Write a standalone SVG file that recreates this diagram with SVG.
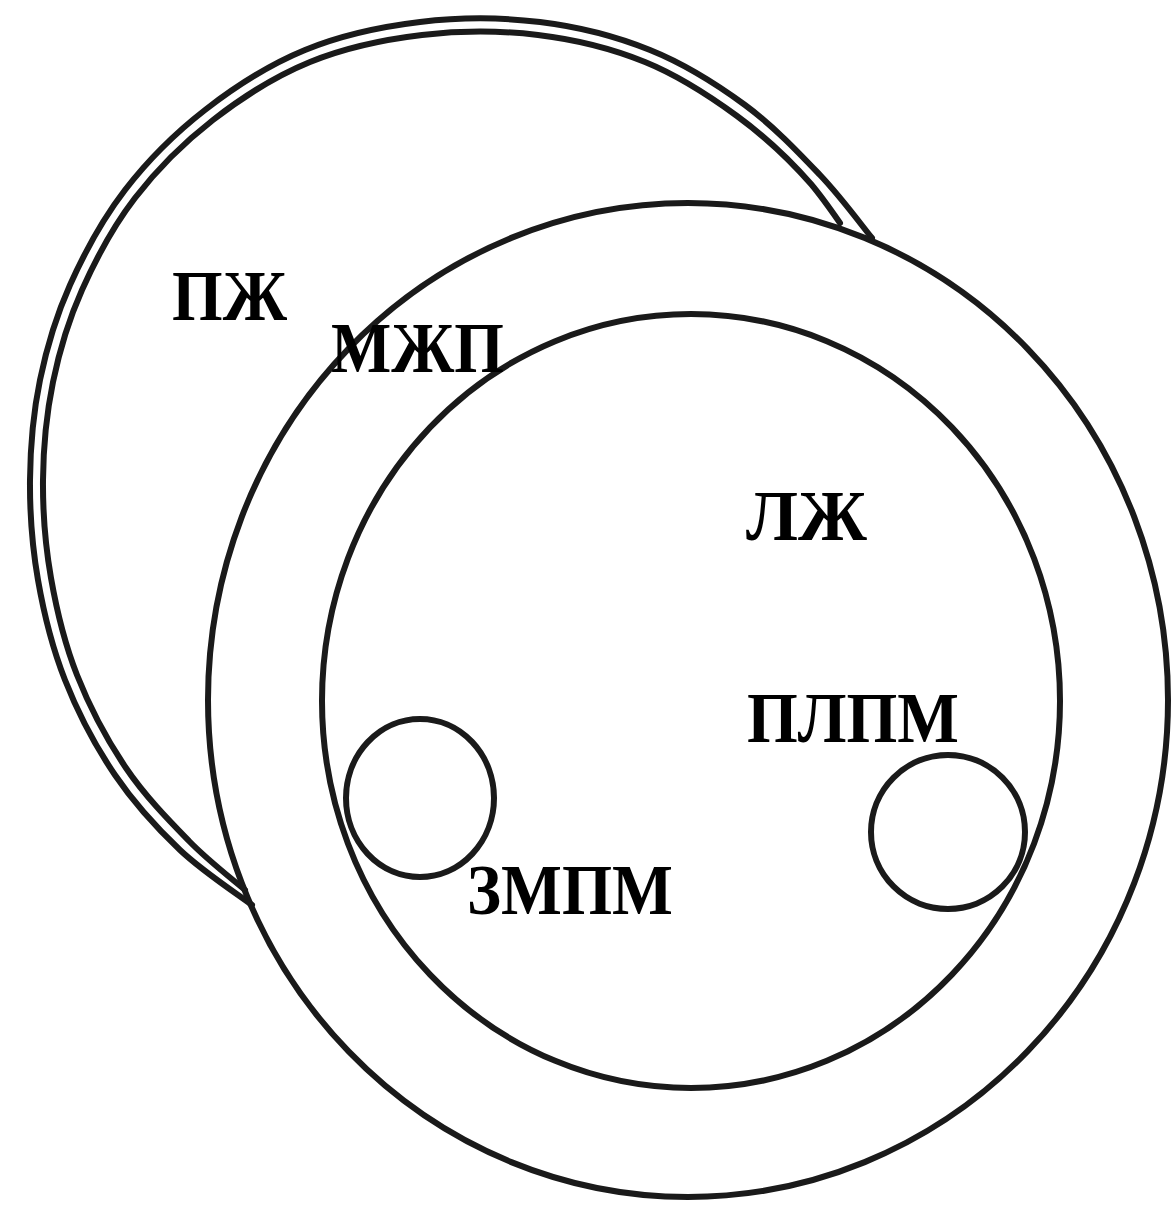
<svg xmlns="http://www.w3.org/2000/svg" width="1176" height="1205" viewBox="0 0 1176 1205">
<style>
.ln{fill:none;stroke:#1a1a1a;stroke-width:6;stroke-linecap:round;stroke-linejoin:round}
.lb{font-family:"Liberation Serif","Times New Roman",serif;font-weight:bold;font-size:72px;fill:#000}
</style>
<rect width="1176" height="1205" fill="#fff"/>
<g id="rv">
<path class="ln" d="M252,905 C240,895.8 202.8,871.7 180,850 C157.2,828.3 134.2,803.3 115,775 C95.8,746.7 77.8,712.5 65,680 C52.2,647.5 43.8,613.3 38,580 C32.2,546.7 29.7,513.3 30,480 C30.3,446.7 33.3,412.5 40,380 C46.7,347.5 55.8,316.7 70,285 C84.2,253.3 102.5,219.2 125,190 C147.5,160.8 175,133.3 205,110 C235,86.7 269.2,64.7 305,50 C340.8,35.3 380.8,26.7 420,22 C459.2,17.3 501.7,17.3 540,22 C578.3,26.7 615.8,36.2 650,50 C684.2,63.8 716.7,84.2 745,105 C773.3,125.8 798.8,152.8 820,175 C841.2,197.2 863.3,227.5 872,238"/>
<path class="ln" d="M245,890 C235.7,881.8 208.8,861.3 189,841 C169.2,820.7 144.7,795.7 126,768 C107.3,740.3 89.5,706.7 77,675 C64.5,643.3 56.7,610.5 51,578 C45.3,545.5 42.7,512.7 43,480 C43.3,447.3 46.5,413.7 53,382 C59.5,350.3 68.3,320.7 82,290 C95.7,259.3 113.2,226.3 135,198 C156.8,169.7 183.8,142.7 213,120 C242.2,97.3 275.2,76.2 310,62 C344.8,47.8 384,39.5 422,35 C460,30.5 500.8,30.5 538,35 C575.2,39.5 611.8,48.5 645,62 C678.2,75.5 709.3,95.7 737,116 C764.7,136.3 790,160 811,184 C822,197 831,210 840,223"/>
</g>
<g id="lv-wall"><ellipse class="ln" cx="688" cy="700" rx="480" ry="497"/></g>
<g id="lv-cavity"><ellipse class="ln" cx="691" cy="701" rx="369" ry="387"/></g>
<g id="pm-posteromedial"><ellipse class="ln" cx="420" cy="798" rx="74" ry="79"/></g>
<g id="pm-anterolateral"><ellipse class="ln" cx="948" cy="832" rx="77" ry="77"/></g>
<g id="labels">
<text class="lb" x="172" y="320" textLength="115" lengthAdjust="spacingAndGlyphs">ПЖ</text>
<text class="lb" x="331" y="372" textLength="173" lengthAdjust="spacingAndGlyphs">МЖП</text>
<text class="lb" x="746" y="540" textLength="121" lengthAdjust="spacingAndGlyphs">ЛЖ</text>
<text class="lb" x="747" y="742" textLength="212" lengthAdjust="spacingAndGlyphs">ПЛПМ</text>
<text class="lb" x="467" y="914" textLength="206" lengthAdjust="spacingAndGlyphs">ЗМПМ</text>
</g>
</svg>
